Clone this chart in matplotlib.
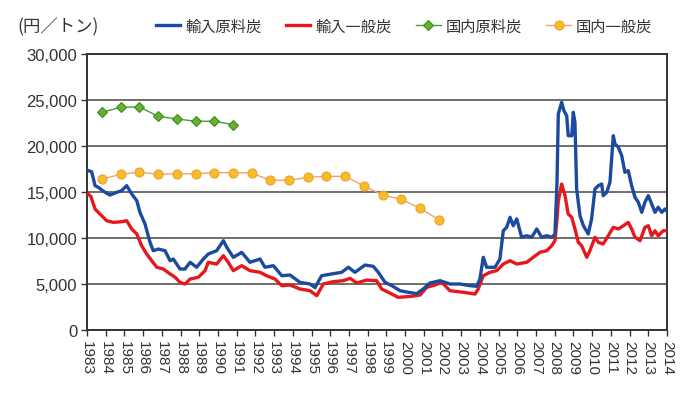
import matplotlib
matplotlib.use("Agg")
import matplotlib.pyplot as plt
from matplotlib.ticker import FuncFormatter, FixedLocator

plt.rcParams['font.family'] = ['Liberation Sans', 'Noto Sans CJK JP', 'DejaVu Sans']

series_names = ['輸入原料炭', '輸入一般炭', '国内原料炭', '国内一般炭']
unit_label = '(円／トン)'
year_labels = [str(y) for y in range(1983, 2015)]

imp_coking_t = [1983.07, 1983.25, 1983.43, 1983.60, 1983.96, 1984.23, 1984.59, 1984.85,
                1985.12, 1985.39, 1985.66, 1985.83, 1986.10, 1986.37, 1986.54, 1986.81,
                1987.17, 1987.44, 1987.61, 1987.97, 1988.24, 1988.51, 1988.86, 1989.22,
                1989.48, 1989.93, 1990.29, 1990.47, 1990.82, 1991.27, 1991.71, 1992.25,
                1992.51, 1992.96, 1993.41, 1993.85, 1994.38, 1994.92, 1995.19, 1995.54,
                1996.08, 1996.61, 1996.97, 1997.32, 1997.86, 1998.30, 1998.57, 1998.93,
                1999.29, 1999.73, 2000.17, 2000.62, 2000.97, 2001.33, 2001.87, 2002.40,
                2002.94, 2003.47, 2003.83, 2004.00, 2004.18, 2004.36, 2004.81, 2005.07,
                2005.25, 2005.43, 2005.61, 2005.78, 2005.97, 2006.23, 2006.50, 2006.77,
                2007.04, 2007.30, 2007.57, 2007.84, 2008.01, 2008.12, 2008.19, 2008.37,
                2008.49, 2008.64, 2008.72, 2008.91, 2008.99, 2009.08, 2009.17, 2009.35,
                2009.53, 2009.79, 2009.97, 2010.15, 2010.33, 2010.51, 2010.59, 2010.78,
                2010.95, 2011.13, 2011.22, 2011.40, 2011.58, 2011.75, 2011.93, 2012.11,
                2012.29, 2012.47, 2012.65, 2012.82, 2013.00, 2013.18, 2013.36, 2013.53,
                2013.72, 2013.89, 2014.00]
imp_coking_v = [17320, 17200, 15690, 15510, 14970, 14670, 14970, 15140,
                15690, 14780, 14060, 12790, 11520, 9530, 8620, 8800,
                8620, 7530, 7720, 6630, 6630, 7360, 6820, 7720,
                8260, 8620, 9710, 8990, 7900, 8440, 7360, 7720,
                6820, 6990, 5900, 5980, 5180, 5000, 4600, 5900,
                6090, 6270, 6820, 6270, 7060, 6920, 6270, 5180,
                4820, 4270, 4100, 3950, 4460, 5110, 5360, 5000,
                5000, 4820, 4750, 5540, 7900, 6820, 6820, 7720,
                10790, 11160, 12250, 11340, 12070, 10080, 10250, 10080,
                10980, 10080, 10250, 10080, 10400, 16000, 23480, 24750,
                23840, 23290, 21120, 21120, 23660, 22570, 15330, 12420,
                11340, 10440, 12070, 15330, 15690, 15870, 14600, 14970,
                16050, 21120, 20220, 19860, 18950, 17140, 17320, 15690,
                14420, 13880, 12790, 13880, 14600, 13700, 12790, 13340,
                12790, 13150, 12900]

imp_steam_t = [1983.07, 1983.21, 1983.43, 1983.69, 1984.05, 1984.41, 1984.85, 1985.12,
               1985.39, 1985.66, 1985.92, 1986.19, 1986.46, 1986.73, 1987.08, 1987.44,
               1987.71, 1987.97, 1988.24, 1988.51, 1988.95, 1989.31, 1989.48, 1989.93,
               1990.29, 1990.55, 1990.82, 1991.27, 1991.71, 1992.25, 1992.60, 1993.05,
               1993.41, 1993.85, 1994.38, 1994.92, 1995.28, 1995.63, 1996.16, 1996.70,
               1997.06, 1997.41, 1997.95, 1998.48, 1998.75, 1999.10, 1999.64, 2000.35,
               2000.80, 2001.16, 2001.60, 2001.96, 2002.40, 2003.11, 2003.74, 2003.91,
               2004.18, 2004.54, 2004.90, 2005.25, 2005.61, 2005.97, 2006.50, 2006.85,
               2007.21, 2007.57, 2007.84, 2008.01, 2008.12, 2008.19, 2008.37, 2008.55,
               2008.72, 2008.91, 2009.08, 2009.26, 2009.44, 2009.71, 2009.88, 2010.15,
               2010.33, 2010.59, 2010.86, 2011.13, 2011.40, 2011.67, 2011.93, 2012.11,
               2012.29, 2012.56, 2012.82, 2013.00, 2013.18, 2013.36, 2013.53, 2013.80,
               2014.00]
imp_steam_v = [14780, 14500, 13150, 12610, 11880, 11700, 11770, 11880,
               10980, 10440, 9160, 8260, 7530, 6820, 6630, 6090,
               5730, 5180, 5000, 5540, 5730, 6450, 7360, 7170,
               8080, 7360, 6450, 6990, 6450, 6270, 5900, 5540,
               4820, 4890, 4460, 4270, 3730, 5000, 5250, 5360,
               5620, 5110, 5430, 5360, 4460, 4100, 3550, 3660,
               3800, 4640, 4890, 5180, 4270, 4100, 3910, 4460,
               5900, 6270, 6450, 7170, 7530, 7170, 7360, 7900,
               8440, 8620, 9160, 9710, 12000, 14000, 15870, 14600,
               12610, 12250, 10980, 9530, 9160, 7900, 8620, 10080,
               9530, 9350, 10250, 11160, 10980, 11340, 11700, 10980,
               10080, 9710, 11160, 11340, 10250, 10790, 10250, 10790,
               10790]

dom_coking_t = [1983.8, 1984.8, 1985.8, 1986.8, 1987.8, 1988.8, 1989.8, 1990.8]
dom_coking_v = [23660, 24210, 24240, 23230, 22940, 22690, 22690, 22320]

dom_steam_t = [1983.8, 1984.8, 1985.8, 1986.8, 1987.8, 1988.8, 1989.8, 1990.8, 1991.8,
               1992.8, 1993.8, 1994.8, 1995.8, 1996.8, 1997.8, 1998.8, 1999.8, 2000.8, 2001.8]
dom_steam_v = [16410, 16920, 17170, 16920, 16990, 16990, 17100, 17100, 17070,
               16270, 16270, 16590, 16700, 16700, 15650, 14670, 14200, 13230, 11990]

fig = plt.figure(figsize=(6.9, 4.1), dpi=100)
ax = fig.add_axes([87/690, 1-331/410, 580/690, 276/410])

ax.plot(imp_coking_t, imp_coking_v, color='#1c4aa0', lw=2.4, label=series_names[0], zorder=4)
ax.plot(imp_steam_t, imp_steam_v, color='#e8171c', lw=2.4, label=series_names[1], zorder=3)
ax.plot(dom_coking_t, dom_coking_v, color='#4a9a3a', lw=1.0, marker='D', ms=5,
        mfc='#6ab02a', mec='#3a8a2a', mew=0.8, label=series_names[2], zorder=5)
ax.plot(dom_steam_t, dom_steam_v, color='#f4a262', lw=1.0, marker='o', ms=6.5,
        mfc='#f6bc2a', mec='#f0a030', mew=0.8, label=series_names[3], zorder=5)

ax.set_xlim(1983, 2014)
ax.set_ylim(0, 30000)
ax.yaxis.set_major_locator(FixedLocator(range(0, 30001, 5000)))
ax.yaxis.set_major_formatter(FuncFormatter(lambda v, p: f'{int(v):,}'))
ax.set_xticks(range(1983, 2015))
ax.set_xticklabels(year_labels, rotation=-90, va='top', ha='center')
ax.grid(axis='y', color='#555555', lw=1.2)
ax.set_axisbelow(True)
for s in ax.spines.values():
    s.set_color('#333333')
    s.set_linewidth(1.4)
ax.tick_params(axis='y', direction='out', length=4, width=1, colors='#333333',
               labelsize=12, labelcolor='#333333', pad=3)
ax.tick_params(axis='x', direction='out', length=4, width=1, colors='#333333',
               labelsize=11, labelcolor='#333333', pad=3)

fig.text(17/690, 1-27/410, unit_label, fontsize=12.5, color='#333333',
         va='center', ha='left', family=['Noto Sans CJK JP', 'DejaVu Sans'])
leg = fig.legend(loc='center', bbox_to_anchor=(404/690, 1-27/410), ncol=4, frameon=False,
                 prop={'family': ['Noto Sans CJK JP', 'DejaVu Sans'], 'size': 11},
                 handlelength=1.6, columnspacing=1.6, handletextpad=0.33)
for t in leg.get_texts():
    t.set_color('#333333')

fig.savefig('out.png', dpi=100)
